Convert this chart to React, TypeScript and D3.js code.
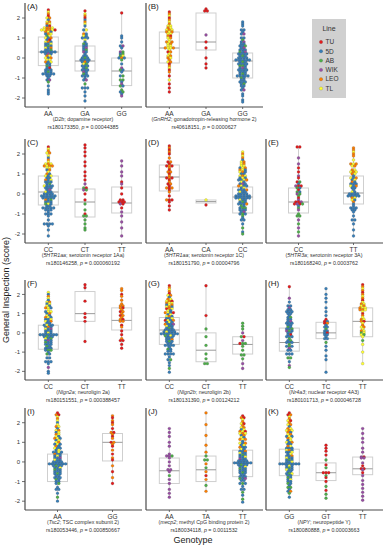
import React, { useRef, useEffect } from 'react';
import * as d3 from 'd3';

// zebrafish lines, colour codes used in the dot strings below
const lineNames = ['TU', '5D', 'AB', 'WIK', 'LEO', 'TL'];
const lineCodes = ['R', 'B', 'G', 'P', 'O', 'Y'];
const lineColors = ['#E41A1C', '#377EB8', '#4DAF4A', '#984EA3', '#FF7F00', '#FFFF33'];

const panelLabels = ['A', 'B', 'C', 'D', 'E', 'F', 'G', 'H', 'I', 'J', 'K'];
const panelRow = [0, 0, 1, 1, 1, 2, 2, 2, 3, 3, 3];
const panelCol = [0, 1, 0, 1, 2, 0, 1, 2, 0, 1, 2];
const genotypes = [
    ['AA', 'GA', 'GG'], ['AA', 'GA', 'GG'], ['CC', 'CT', 'TT'], ['AA', 'CA', 'CC'],
    ['CC', 'TT'], ['CC', 'CT', 'TT'], ['CC', 'CT', 'TT'], ['CC', 'TC', 'TT'],
    ['AA', 'GG'], ['AA', 'TA', 'TT'], ['GG', 'GT', 'TT'],
];
const genes = ['D2b', 'GnRH2', '5HTR1aa', '5HTR1aa', '5HTR3a', 'Nlgn2a', 'Nlgn2b', 'Nr4a3', 'Tsc2', 'mecp2', 'NPY'];
const geneNames = [
    'dopamine receptor', 'gonadotropin-releasing hormone 2', 'serotonin receptor 1Aa',
    'serotonin receptor 1C', 'serotonin receptor 3A', 'neuroligin 2a', 'neuroligin 2b',
    'nuclear receptor 4A3', 'TSC complex subunit 2', 'methyl CpG binding protein 2', 'neuropeptide Y',
];
const snps = ['rs180173350', 'rs40618151', 'rs180146258', 'rs180151790', 'rs180168240', 'rs180151551',
    'rs180131390', 'rs180101713', 'rs180053446', 'rs180034118', 'rs180080888'];
const pValues = ['0.00044385', '0.0000627', '0.000060192', '0.00004796', '0.0003762', '0.000388457',
    '0.00124212', '0.000046728', '0.000850667', '0.0011532', '0.00003663'];

// [q1, median, q3] per genotype
const boxStats = [
    [[-0.38, 0.3, 1.05], [-0.65, -0.15, 0.6], [-1.38, -0.65, 0.0]],
    [[-0.25, 0.5, 1.3], [0.4, 0.8, 2.25], [-1.0, -0.15, 0.25]],
    [[-0.55, 0.1, 0.9], [-1.15, -0.4, 0.25], [-0.95, -0.45, 0.35]],
    [[0.15, 0.85, 1.45], [-0.45, -0.38, -0.3], [-0.95, -0.15, 0.35]],
    [[-0.95, -0.4, 0.3], [-0.5, 0.05, 0.9]],
    [[-0.85, -0.1, 0.4], [0.6, 1.0, 2.15], [0.15, 0.65, 1.3]],
    [[-0.6, 0.15, 0.8], [-1.5, -0.9, 0.0], [-1.1, -0.6, -0.2]],
    [[-0.95, -0.5, 0.25], [-0.3, 0.0, 0.55], [-0.2, 0.6, 1.3]],
    [[-1.0, -0.1, 0.4], [0.05, 1.0, 1.45]],
    [[-1.1, -0.45, 0.2], [-1.0, -0.4, 0.3], [-0.75, -0.05, 0.6]],
    [[-0.7, -0.1, 0.65], [-0.95, -0.55, -0.05], [-0.65, -0.35, 0.25]],
];

// score followed by the lines of the fish at that score
const dotsA = [
    '2.4R 2.3Y 2.2O 2.1R 2YO 1.9B 1.8YO 1.7OY 1.6BR 1.5YOOY 1.4YYOOYR 1.3OYB 1.2BOY 1.1GY 1YBO 0.9BR 0.8YOB 0.7BBY 0.6BGB 0.5YBO 0.4BBG 0.3BBBBBB 0.2BPB 0.1OY 0YBO -0.1YY -0.2OBY -0.3BB -0.4GB -0.5BR -0.6BBB -0.7BGB -0.8BBBBB -0.9BB -1B -1.1BP -1.2G -1.4B -1.6B -1.7B -1.8B',
    '2.35R 2.2Y 2.1O 2R 1.9B 1.8O 1.7Y 1.6B 1.4BY 1.2OB 1.1YB 1BBB 0.9Y 0.8B 0.7GB 0.6BB 0.5BP 0.4BG 0.3PB 0.2B 0.1BB 0BGB -0.1BBBB -0.2BOB -0.3YG -0.4BBB -0.5BG -0.6BBB -0.7PB -0.8GB -0.9BBB -1B -1.1BP -1.3G -1.5BBB -1.7B -1.9B -2.15B',
    '2.25R 1.1B 1B 0.8B 0.6BP 0.5B 0.3PG 0.2BG 0.1GY 0BOB -0.1G -0.3B -0.5P -0.6GB -0.7B -0.9BG -1.1GG -1.2B -1.3P -1.4GB -1.6G -1.7BG -1.8B -1.9P',
];
const dotsB = [
    '2.3R 2.2O 2.1Y 2R 1.9O 1.8Y 1.7O 1.6YY 1.5OY 1.4YOY 1.3OYO 1.2YY 1.1OR 1YO 0.9Y 0.8OYO 0.7YO 0.6YY 0.5OYYO 0.4Y 0.3RO 0.2Y 0.1YO 0OY -0.1O -0.2YO -0.3R -0.4O -0.5Y -0.6R -0.7O -0.9R -1.1Y -1.3R -1.5R -1.7R',
    '2.45R 2.35RR 1.15P 0.8R 0.5R 0R -0.3R -0.5R',
    '1.8B 1.7B 1.6B 1.4BB 1.3B 1.2BP 1BB 0.9G 0.8BP 0.7BB 0.6BBG 0.5BP 0.4BBB 0.3GBP 0.2BBBB 0.1BGB 0BBBB -0.1BBBBBB -0.2BGB -0.3BBBB -0.4GGB -0.5BPB -0.6BBBB -0.7BBB -0.8BGB -0.9BBBBB -1GB -1.1BB -1.2BBB -1.3BG -1.4BB -1.5B -1.6BP -1.8B -1.9B -2.1B -2.2B',
];
const dotsC = [
    '2.35R 2.25Y 2.15O 2.05YO 1.9Y 1.8B 1.7O 1.6Y 1.5YOY 1.4OYOO 1.3YY 1.2BO 1.1Y 1OB 0.9YBY 0.8BB 0.7OBY 0.6BBB 0.5BG 0.4YBBB 0.3BBB 0.2BP 0.1YBB 0BBBB -0.1BBBBBB -0.2BBBBB -0.3OBG -0.4BBB -0.5GYB -0.6BB -0.7BBBBB -0.8BBB -0.9B -1BBB -1.1B -1.3B -1.5BBBB -1.6B -1.8B -2.1B',
    '2.45R 2.3R 2.1R 1.9R 1.6R 1.4R 1.1R 0.9R 0.7R 0.5P 0.3GR 0.2PG 0R -0.3R -0.5G -0.8G -1R -1.1GG -1.3G -1.5G -1.7G -1.8G',
    '1.65P 1.4P 1.1P 0.9P 0.6R 0.5P 0.3R 0R -0.3RR -0.4RRR -0.5PR -0.7R -0.9P -1.1P -1.4P -1.7P -2.1P',
];
const dotsD = [
    '2.4R 2.3O 2.2R 2.1O 2R 1.8O 1.6RO 1.5R 1.4ROR 1.3O 1.2R 1.1OO 1R 0.9O 0.8ROR 0.7R 0.6O 0.5RO 0.4R 0.3ORO 0.2R 0.1O -0.1R -0.3ORR -0.4R -0.6R -0.8R',
    '-0.3Y -0.55R',
    '2.1Y 2O 1.9Y 1.8O 1.7B 1.6YO 1.5YO 1.4YY 1.3BYO 1.2OYB 1.1YOB 1BB 0.9YOY 0.8BYB 0.7BBYO 0.6YB 0.5BPB 0.4OYBB 0.3BY 0.2BBBO 0.1YBB 0BBBB -0.1BBBBBB -0.2BBBBBB -0.3YBB -0.4BGB -0.5BBBO -0.6GB -0.7BGG -0.8BBB -0.9BP -1BGB -1.1G -1.2B -1.3BB -1.5B -1.7G -1.9B -2G',
];
const dotsE = [
    '2.35RR 1.8P 1.5P 1.3R 1.1R 0.9P 0.8R 0.6RG 0.5B 0.4PRR 0.3GB 0.2R 0.1GB 0PG -0.1G -0.2R -0.3P -0.4RRP -0.5RPRG -0.6B -0.7G -0.8P -1G -1.1GG -1.3P -1.5G -1.7P -1.9G -2.1P',
    '2.3O 2.2O 2.1Y 2O 1.9O 1.7Y 1.5OYO 1.4YO 1.2OY 1.1YOY 1OY 0.9B 0.8YBO 0.7BY 0.6OB 0.5BBB 0.4YBO 0.3BB 0.2B 0.1YB 0BBBB -0.1BBBBB -0.2OY -0.3YB -0.4O -0.5B -0.6B -0.7BBB -0.8BB -0.9B -1.1B -1.3BB -1.5B -1.8B -2.1B',
];
const dotsF = [
    '2.1Y 2B 1.9O 1.8Y 1.7B 1.6YO 1.5BY 1.4YB 1.3OYB 1.2Y 1.1BYY 1BO 0.9YB 0.8OYB 0.7BBY 0.6YBO 0.5BB 0.4BYBB 0.3BOB 0.2YBP 0.1BBB 0BYB -0.1BBBBBBB -0.2BGBB -0.3YBG -0.4BPB -0.5GBB -0.6BBB -0.7GB -0.8BBB -0.9BGG -1B -1.1GB -1.3BB -1.5BBB -1.6B -1.8P -2B -2.1B',
    '2.5R 2.35R 1.65R 1R 0.8R 0.6R -0.45R',
    '2.3O 2.2O 2R 1.9O 1.7O 1.5O 1.4OO 1.3OR 1.2O 1.1RO 1O 0.9RO 0.8O 0.7OR 0.6OO 0.4R 0.3O 0.1R -0.1R -0.3O -0.4RR -0.6R -0.8R',
];
const dotsG = [
    '2.45R 2.35O 2.25Y 2.15O 2.05R 1.95YO 1.85B 1.75OY 1.65YOR 1.55OYY 1.45BYO 1.35YOB 1.25ROY 1.15YB 1.05OYBR 0.95BY 0.85YOB 0.75BBY 0.65RYBO 0.55BYB 0.45OBBP 0.35YBB 0.25BGB 0.15BBBB 0.05BYBBB -0.05BBBBBBB -0.15GBYB -0.25BBB -0.35BBO -0.45BGB -0.55BB -0.65BBBB -0.75B -0.85GB -0.95BB -1.1BBBB -1.25B -1.4BG -1.55B -1.7B -1.85G -2.05B',
    '2.45R 0.9R 0.2G -0.2G -0.65G -1.1G -1.35G -1.6GG',
    '0.5G 0.35G 0.2G 0P -0.2GR -0.4P -0.55RGG -0.7G -0.9G -1.15GG -1.35G -1.6P -1.85P',
];
const dotsH = [
    '2.4R 1.8P 1.6B 1.4BB 1.3P 1.2BB 1.1BBB 1BB 0.9B 0.8BG 0.7BB 0.6BP 0.5BBB 0.4BB 0.3GB 0.2BBG 0.1PGB 0BB -0.1BR -0.2BBB -0.3G -0.4BG -0.5BBB -0.6G -0.7BGB -0.8P -0.9BB -1.1BBB -1.3GG -1.5B -1.7P -1.8G',
    '2.3B 2B 1.8B 1.6B 1.3B 1.1B 0.9B 0.7R 0.6RB 0.5RO 0.4B 0.3BB 0.2G 0.1BB 0BR -0.1BB -0.2B -0.3BB -0.5G -0.7B -0.9B -1.2B -1.4B -2.05B',
    '2.5R 2.4O 2.3Y 2.2O 2.1R 2O 1.9Y 1.8O 1.7R 1.6Y 1.5OY 1.4YO 1.3OYY 1.2OOY 1.1Y 1R 0.9O 0.8Y 0.7OY 0.6OR 0.5Y 0.4O 0.3YO 0.2Y 0.1OY 0GY -0.1YG -0.2Y -0.4G -0.6Y -1Y -1.6Y',
];
const dotsI = [
    '2.5R 2.4OR 2.3Y 2.2O 2.1Y 2B 1.9Y 1.8OY 1.7B 1.6YO 1.5BY 1.4OY 1.3YB 1.2OYB 1.1BY 1YO 0.9BYB 0.8OB 0.7YBB 0.6BY 0.5BBYB 0.4OBB 0.3BYB 0.2BBP 0.1YBB 0BBBB -0.1BBBBBBB -0.2BGBB -0.3BBY -0.4GBB -0.5BBB -0.6BGB -0.7BB -0.8BBB -0.9GB -1BB -1.1BG -1.3B -1.4BB -1.6B -1.8G -2B',
    '2.35O 2.25R 2.1O 2R 1.9O 1.7R 1.5OR 1.4O 1.3R 1.2O 1RO 0.9O 0.8R 0.6O 0.4R 0.2O 0.1R -0.2O -0.5R -0.8O -1.1R',
];
const dotsJ = [
    '1.7P 1.5P 1.3P 1P 0.8P 0.4P 0.3PPG 0.2P 0P -0.2P -0.4PP -0.5P -0.7G -0.9P -1.1P -1.4P -1.6P -1.8P',
    '2.5O 1.9O 1.35O 0.85O 0.5O 0.3G 0.1GG -0.1O -0.3G -0.5O -0.7R -0.9O -1.2G -1.5O',
    '2.35R 2.25OR 2.15Y 2.05O 1.95YR 1.85O 1.75YO 1.65BY 1.55OYR 1.45YOY 1.35BO 1.25YB 1.15OYO 1.05B 0.95YBO 0.85BY 0.75OBB 0.65YB 0.55BBO 0.45YBB 0.35BGB 0.25BBY 0.15PBB 0.05BBBB -0.05BBBBBBB -0.15BGBB -0.25BBY -0.35GBB -0.45BBB -0.55BGB -0.65BB -0.75BBB -0.85GBP -0.95BB -1.1BGB -1.25B -1.4BB -1.55G -1.7B -1.9G -2.05B',
];
const dotsK = [
    '2.5R 2.4RO 2.3Y 2.2O 2.1YR 2O 1.9YO 1.8B 1.7OY 1.6YOY 1.5OB 1.4YO 1.3BYB 1.2OY 1.1BY 1YBO 0.9BB 0.8OY 0.7BBB 0.6YOB 0.5BBY 0.4BY 0.3BBO 0.2YBB 0.1BGB 0BBY -0.1BBBBBBBB -0.2BYB -0.3BGB -0.4YBB -0.5BB -0.6BGY -0.7BB -0.8GB -0.9BY -1BB -1.1GB -1.2B -1.3GG -1.4B -1.5BO -1.6G -1.8B',
    '0.85R 0.7R 0.55R 0.35R 0.1G -0.15R -0.3G -0.55RRR -0.7G -0.8R -1R -1.25G -1.45R -1.65G -1.85G',
    '1.7P 1.45P 1.2P 1P 0.7P 0.5P 0.25PR 0.2PP -0.05P -0.2R -0.35RR -0.4P -0.55R -0.7P -0.95P -1.15P -1.35P -1.55P -1.75P -1.95P',
];
const panelDots = [dotsA, dotsB, dotsC, dotsD, dotsE, dotsF, dotsG, dotsH, dotsI, dotsJ, dotsK];

const yTicks = [-2, -1, 0, 1, 2];

interface Dot { v: number; line: number; }

const parseDots = (s: string): Dot[][] =>
    s.trim().split(/\s+/).map(tok => {
        const m = tok.match(/^(-?[\d.]+)([A-Z]+)$/)!;
        const v = +m[1];
        return m[2].split('').map(c => ({ v, line: lineCodes.indexOf(c) }));
    });

const App: React.FC = () => {
    const width = 386;
    const height = 550;
    const rowTop = [3, 139, 280, 408];
    const rowBottom = [107, 243, 380, 510];
    const colX = [25, 146, 266];
    const panelW = 117;
    const font = '"Liberation Sans", Arial, sans-serif';
    const axisColor = '#4a4a4a';

    const svgRef = useRef<SVGSVGElement>(null);

    useEffect(() => {
        if (!svgRef.current) return;
        const svg = d3.select(svgRef.current);
        svg.selectAll('*').remove();
        svg.attr('font-family', font);

        panelLabels.forEach((label, pi) => {
            const r = panelRow[pi];
            const x0 = colX[panelCol[pi]];
            const y = d3.scaleLinear().domain([-2.45, 2.75]).range([rowBottom[r], rowTop[r]]);
            const x = d3.scalePoint<string>().domain(genotypes[pi]).range([x0 + 5, x0 + 115]).padding(0.5);
            const g = svg.append('g');

            // boxes
            genotypes[pi].forEach((gt, gi) => {
                const cx = x(gt)!;
                const [q1, med, q3] = boxStats[pi][gi];
                const vals = panelDots[pi][gi].trim().split(/\s+/).map(t => +t.match(/^(-?[\d.]+)/)![1]);
                const lo = d3.min(vals)!;
                const hi = d3.max(vals)!;
                const bw = 20;
                g.append('line').attr('x1', cx).attr('x2', cx).attr('y1', y(hi)).attr('y2', y(q3))
                    .attr('stroke', '#cfcfcf').attr('stroke-width', 1);
                g.append('line').attr('x1', cx).attr('x2', cx).attr('y1', y(q1)).attr('y2', y(lo))
                    .attr('stroke', '#cfcfcf').attr('stroke-width', 1);
                g.append('rect').attr('x', cx - bw / 2).attr('y', y(q3)).attr('width', bw)
                    .attr('height', Math.max(1, y(q1) - y(q3)))
                    .attr('fill', 'white').attr('stroke', '#cfcfcf').attr('stroke-width', 1);
                g.append('line').attr('x1', cx - bw / 2).attr('x2', cx + bw / 2).attr('y1', y(med)).attr('y2', y(med))
                    .attr('stroke', '#9a9a9a').attr('stroke-width', 1);
            });

            // dots
            genotypes[pi].forEach((gt, gi) => {
                const cx = x(gt)!;
                const rows = parseDots(panelDots[pi][gi]);
                const dx = 2.7;
                rows.forEach(row => {
                    row.forEach((d, i) => {
                        g.append('circle')
                            .attr('cx', cx + (i - (row.length - 1) / 2) * dx)
                            .attr('cy', y(d.v))
                            .attr('r', 1.45)
                            .attr('fill', lineColors[d.line])
                            .attr('stroke', 'rgba(60,60,60,0.45)')
                            .attr('stroke-width', 0.4);
                    });
                });
            });

            // axes
            g.append('line').attr('x1', x0).attr('x2', x0).attr('y1', rowTop[r]).attr('y2', rowBottom[r])
                .attr('stroke', axisColor).attr('stroke-width', 1.2);
            g.append('line').attr('x1', x0).attr('x2', x0 + panelW).attr('y1', rowBottom[r]).attr('y2', rowBottom[r])
                .attr('stroke', axisColor).attr('stroke-width', 1.2);

            if (panelCol[pi] === 0) {
                yTicks.forEach(t => {
                    g.append('line').attr('x1', x0 - 3).attr('x2', x0).attr('y1', y(t)).attr('y2', y(t))
                        .attr('stroke', axisColor).attr('stroke-width', 0.8);
                    g.append('text').attr('x', x0 - 5).attr('y', y(t)).attr('dy', '0.35em')
                        .attr('text-anchor', 'end').attr('font-size', 6).attr('fill', '#333').text(t);
                });
            }

            genotypes[pi].forEach(gt => {
                g.append('line').attr('x1', x(gt)!).attr('x2', x(gt)!).attr('y1', rowBottom[r]).attr('y2', rowBottom[r] + 2)
                    .attr('stroke', axisColor).attr('stroke-width', 0.8);
                g.append('text').attr('x', x(gt)!).attr('y', rowBottom[r] + 8.5)
                    .attr('text-anchor', 'middle').attr('font-size', 6.5).attr('fill', '#333').text(gt);
            });

            g.append('text').attr('x', x0 + 2).attr('y', rowTop[r] + 6)
                .attr('font-size', 8).attr('fill', '#222').text(`(${label})`);

            const mid = x0 + 58;
            const c1 = g.append('text').attr('x', mid).attr('y', rowBottom[r] + 14)
                .attr('text-anchor', 'middle').attr('font-size', 5.3).attr('fill', '#333');
            c1.append('tspan').text('(');
            c1.append('tspan').attr('font-style', 'italic').text(genes[pi]);
            c1.append('tspan').text(`; ${geneNames[pi]})`);
            const c2 = g.append('text').attr('x', mid).attr('y', rowBottom[r] + 21.5)
                .attr('text-anchor', 'middle').attr('font-size', 5.3).attr('fill', '#333');
            c2.append('tspan').text(`${snps[pi]}, `);
            c2.append('tspan').attr('font-style', 'italic').text('p');
            c2.append('tspan').text(` = ${pValues[pi]}`);
        });

        // legend
        const lg = svg.append('g').attr('transform', 'translate(312,19)');
        lg.append('rect').attr('width', 34).attr('height', 79).attr('fill', '#d0d0d0');
        lg.append('text').attr('x', 17).attr('y', 12).attr('text-anchor', 'middle')
            .attr('font-size', 7).attr('fill', '#333').text('Line');
        lineNames.forEach((n, i) => {
            const yy = 23 + i * 9.3;
            lg.append('circle').attr('cx', 9).attr('cy', yy).attr('r', 1.7)
                .attr('fill', lineColors[i]).attr('stroke', 'rgba(60,60,60,0.45)').attr('stroke-width', 0.4);
            lg.append('text').attr('x', 13.5).attr('y', yy).attr('dy', '0.35em')
                .attr('font-size', 6.5).attr('fill', '#333').text(n);
        });

        // axis titles
        svg.append('text').attr('transform', 'translate(9,290) rotate(-90)')
            .attr('text-anchor', 'middle').attr('font-size', 9).attr('fill', '#222')
            .text('General Inspection (score)');
        svg.append('text').attr('x', 193).attr('y', 543)
            .attr('text-anchor', 'middle').attr('font-size', 9).attr('fill', '#222').text('Genotype');
    }, []);

    return <svg ref={svgRef} width={width} height={height}
        style={{ position: 'absolute', left: 0, top: 0, background: 'white' }} />;
};

export default App;
